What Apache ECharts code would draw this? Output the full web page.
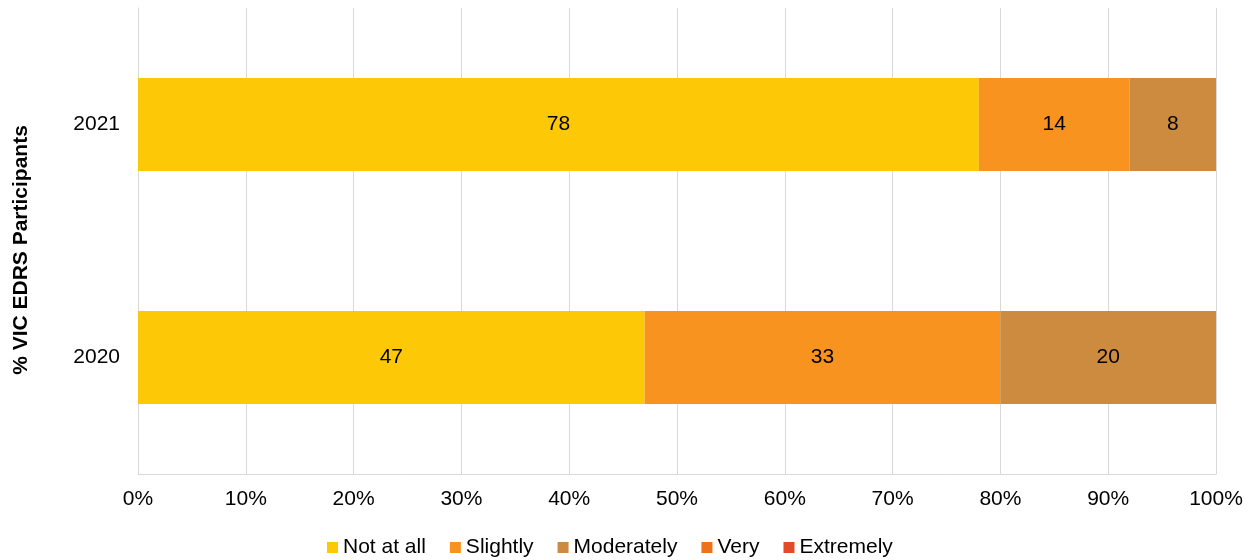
<!DOCTYPE html>
<html><head><meta charset="utf-8">
<script src="https://cdn.jsdelivr.net/npm/echarts@6/dist/echarts.min.js"></script>
<style>html,body{margin:0;padding:0;background:#fff}#c{width:1258px;height:560px}</style>
</head><body><div id="c"></div>
<script>
const categories = ['2020', '2021'];
const seriesNames = ['Not at all', 'Slightly', 'Moderately', 'Very', 'Extremely'];
const notAtAll = [47, 78];
const slightly = [33, 14];
const moderately = [20, 8];
const very = [0, 0];
const extremely = [0, 0];
const xTicks = [0, 10, 20, 30, 40, 50, 60, 70, 80, 90, 100];
const colors = ['#FDC806', '#F7931E', '#CD8B40', '#EE7219', '#E34A27'];
const values = [notAtAll, slightly, moderately, very, extremely];

const font = 'Liberation Sans, Arial, sans-serif';
const fs = 21;
const chart = echarts.init(document.getElementById('c'));
chart.setOption({
  animation: false,
  textStyle: { fontFamily: font },
  grid: { left: 138, right: 42, top: 8, bottom: 86, containLabel: false },
  legend: {
    top: 532, left: 322, itemWidth: 11, itemHeight: 11, itemGap: 24,
    icon: 'rect',
    textStyle: { fontSize: fs, color: '#000', fontFamily: font, padding: [0, 0, 0, 0] },
    data: seriesNames
  },
  xAxis: {
    type: 'value', min: xTicks[0], max: xTicks[xTicks.length - 1], interval: 10,
    axisLine: { show: true, lineStyle: { color: '#d9d9d9' } },
    axisTick: { show: false },
    splitLine: { show: true, lineStyle: { color: '#d9d9d9' } },
    axisLabel: { formatter: v => v + '%', fontSize: fs, color: '#000', margin: 15, fontFamily: font }
  },
  yAxis: {
    type: 'category', data: categories,
    name: '% VIC EDRS Participants', nameLocation: 'middle', nameGap: 106, nameRotate: 90,
    nameTextStyle: { fontSize: fs, fontWeight: 'bold', color: '#000', fontFamily: font, padding: [0, 18, 0, 0] },
    axisLine: { show: true, lineStyle: { color: '#d9d9d9' } },
    axisTick: { show: false },
    axisLabel: { fontSize: fs, color: '#000', margin: 18, fontFamily: font }
  },
  series: seriesNames.map((n, i) => ({
    name: n, type: 'bar', stack: 'total', barWidth: '40%',
    itemStyle: { color: colors[i] },
    label: {
      show: true, position: 'inside', fontSize: fs, color: '#000', fontFamily: font,
      formatter: p => (p.value ? String(p.value) : '')
    },
    data: values[i]
  }))
});
</script></body></html>
